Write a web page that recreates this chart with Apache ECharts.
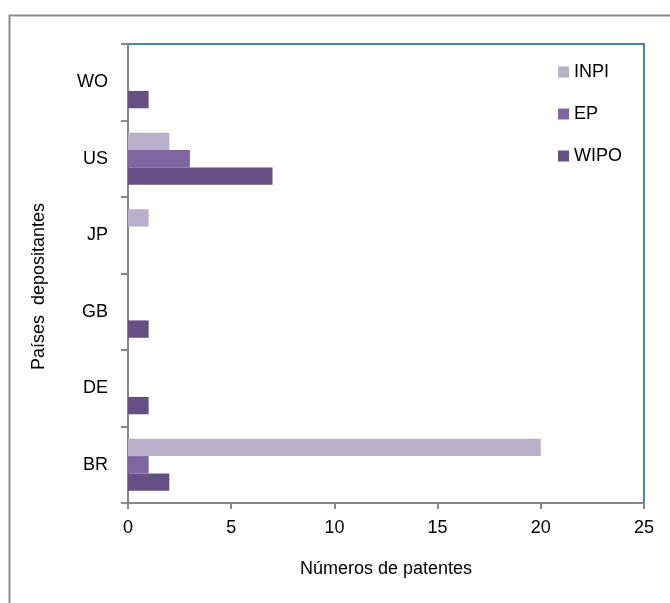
<!DOCTYPE html>
<html>
<head>
<meta charset="utf-8">
<title>Países depositantes</title>
<script src="https://cdn.jsdelivr.net/npm/echarts@6/dist/echarts.min.js"></script>
<style>
  html, body { margin: 0; padding: 0; background: #fff; }
  #chart { width: 670px; height: 603px; }
</style>
</head>
<body>
<div id="chart"></div>
<script>
// Patent filing countries (bottom to top on the category axis)
const countries = ['BR', 'DE', 'GB', 'JP', 'US', 'WO'];

// Number of patents per database
const inpi = [20, 0, 0, 1, 2, 0];
const ep   = [1, 0, 0, 0, 3, 0];
const wipo = [2, 1, 1, 0, 7, 1];

const seriesNames = ['INPI', 'EP', 'WIPO'];
const seriesColors = ['#B8AFCB', '#8066A1', '#654F83'];

const xTicks = { min: 0, max: 25, interval: 5 };

const FONT = 'Liberation Sans, Arial, sans-serif';
const axisGray = '#878787';

const chart = echarts.init(document.getElementById('chart'), null, { renderer: 'canvas' });

const makeSeries = (name, values, color) => ({
  name: name,
  type: 'bar',
  data: values,
  barGap: '0%',
  barCategoryGap: '32%',
  itemStyle: { color: color },
  emphasis: { disabled: true }
});

chart.setOption({
  animation: false,
  backgroundColor: '#ffffff',
  textStyle: { fontFamily: FONT },
  graphic: [{
    type: 'rect',
    left: 7,
    top: 13,
    shape: { width: 720, height: 720 },
    style: { fill: 'none', stroke: '#8c8c8c', lineWidth: 2 },
    silent: true,
    z: -10
  }],
  grid: {
    left: 128,
    right: 26,
    top: 44,
    bottom: 100,
    show: true,
    borderColor: '#4F81BD',
    borderWidth: 2,
    backgroundColor: 'transparent'
  },
  legend: {
    orient: 'vertical',
    left: 558,
    top: 63,
    padding: 0,
    itemWidth: 11,
    itemHeight: 11,
    itemGap: 24,
    itemTextGap: 6,
    icon: 'rect',
    data: seriesNames,
    textStyle: { fontFamily: FONT, fontSize: 18, color: '#000' }
  },
  xAxis: {
    type: 'value',
    min: xTicks.min,
    max: xTicks.max,
    interval: xTicks.interval,
    name: 'Números de patentes',
    nameLocation: 'middle',
    nameGap: 57,
    nameTextStyle: { fontFamily: FONT, fontSize: 18, color: '#000' },
    axisLine: { show: true, lineStyle: { color: axisGray, width: 2 } },
    axisTick: { show: true, length: 6, lineStyle: { color: axisGray, width: 2 } },
    axisLabel: { fontFamily: FONT, fontSize: 18, color: '#000', margin: 16 },
    splitLine: { show: false }
  },
  yAxis: {
    type: 'category',
    data: countries,
    name: 'Países  depositantes',
    nameLocation: 'middle',
    nameGap: 80,
    nameRotate: 90,
    nameTextStyle: { fontFamily: FONT, fontSize: 18, color: '#000', padding: [0, 26, 0, 0] },
    axisLine: { show: true, lineStyle: { color: axisGray, width: 2 } },
    axisTick: { show: true, length: 7, lineStyle: { color: axisGray, width: 2 } },
    axisLabel: { fontFamily: FONT, fontSize: 18, color: '#000', margin: 20 },
    splitLine: { show: false }
  },
  series: [
    makeSeries(seriesNames[0], inpi, seriesColors[0]),
    makeSeries(seriesNames[1], ep, seriesColors[1]),
    makeSeries(seriesNames[2], wipo, seriesColors[2])
  ]
});
</script>
</body>
</html>
